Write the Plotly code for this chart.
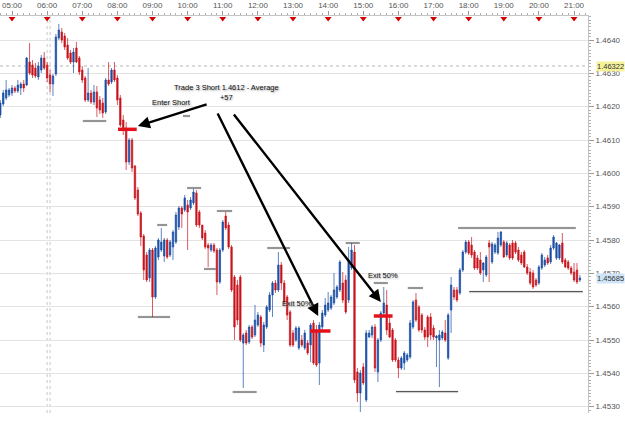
import pandas as pd
import plotly.graph_objects as go

DAY = "2010-11-17 "
START = DAY + "04:40"

# ---- 5-minute OHLC candles ----
opens = [1.46175, 1.46208, 1.46226, 1.46235, 1.46241, 1.46256, 1.46247, 1.46256, 1.46268, 1.46265,
         1.46334, 1.46325, 1.46316, 1.46289, 1.46310, 1.46346, 1.46325, 1.46295, 1.46268, 1.46298,
         1.46406, 1.46424, 1.46412, 1.46385, 1.46361, 1.46334, 1.46376, 1.46346, 1.46310, 1.46286,
         1.46220, 1.46241, 1.46214, 1.46244, 1.46220, 1.46211, 1.46184, 1.46280, 1.46274, 1.46310,
         1.46286, 1.46226, 1.46160, 1.46136, 1.46034, 1.46100, 1.46022, 1.45950, 1.45881, 1.45812,
         1.45755, 1.45686, 1.45770, 1.45629, 1.45749, 1.45770, 1.45752, 1.45800, 1.45755, 1.45779,
         1.45794, 1.45839, 1.45896, 1.45890, 1.45905, 1.45896, 1.45911, 1.45941, 1.45884, 1.45845,
         1.45821, 1.45785, 1.45770, 1.45785, 1.45770, 1.45674, 1.45770, 1.45872, 1.45845, 1.45779,
         1.45689, 1.45665, 1.45689, 1.45491, 1.45521, 1.45494, 1.45539, 1.45515, 1.45545, 1.45569,
         1.45485, 1.45539, 1.45590, 1.45635, 1.45671, 1.45650, 1.45725, 1.45671, 1.45629, 1.45584,
         1.45521, 1.45500, 1.45476, 1.45500, 1.45476, 1.45491, 1.45485, 1.45551, 1.45530, 1.45431,
         1.45539, 1.45575, 1.45590, 1.45596, 1.45611, 1.45629, 1.45650, 1.45671, 1.45680, 1.45620,
         1.45716, 1.45764, 1.45404, 1.45341, 1.45419, 1.45320, 1.45509, 1.45515, 1.45539, 1.45404,
         1.45500, 1.45581, 1.45605, 1.45551, 1.45530, 1.45500, 1.45440, 1.45416, 1.45431, 1.45440,
         1.45449, 1.45539, 1.45620, 1.45599, 1.45575, 1.45530, 1.45569, 1.45569, 1.45536, 1.45506,
         1.45500, 1.45506, 1.45521, 1.45446, 1.45590, 1.45650, 1.45650, 1.45641, 1.45710, 1.45764,
         1.45794, 1.45785, 1.45764, 1.45746, 1.45740, 1.45710, 1.45695, 1.45791, 1.45734, 1.45764,
         1.45761, 1.45785, 1.45794, 1.45755, 1.45785, 1.45791, 1.45791, 1.45770, 1.45755, 1.45764,
         1.45719, 1.45704, 1.45701, 1.45680, 1.45671, 1.45716, 1.45725, 1.45746, 1.45734, 1.45776,
         1.45746, 1.45746, 1.45791, 1.45740, 1.45734, 1.45716, 1.45704, 1.45710, 1.45680]
highs = [1.46220, 1.46250, 1.46280, 1.46256, 1.46265, 1.46262, 1.46280, 1.46274, 1.46280, 1.46349,
         1.46391, 1.46340, 1.46331, 1.46334, 1.46355, 1.46364, 1.46334, 1.46310, 1.46298, 1.46418,
         1.46448, 1.46436, 1.46421, 1.46406, 1.46370, 1.46376, 1.46394, 1.46352, 1.46322, 1.46292,
         1.46316, 1.46250, 1.46265, 1.46262, 1.46232, 1.46226, 1.46286, 1.46334, 1.46316, 1.46334,
         1.46295, 1.46235, 1.46175, 1.46154, 1.46106, 1.46106, 1.46025, 1.45959, 1.45887, 1.45818,
         1.45764, 1.45776, 1.45776, 1.45782, 1.45806, 1.45836, 1.45806, 1.45806, 1.45800, 1.45830,
         1.45884, 1.45902, 1.45902, 1.45935, 1.45920, 1.45929, 1.45953, 1.45950, 1.45890, 1.45845,
         1.45830, 1.45791, 1.45791, 1.45791, 1.45776, 1.45776, 1.45860, 1.45884, 1.45854, 1.45785,
         1.45695, 1.45680, 1.45695, 1.45521, 1.45530, 1.45545, 1.45545, 1.45605, 1.45584, 1.45575,
         1.45554, 1.45605, 1.45644, 1.45677, 1.45680, 1.45764, 1.45734, 1.45680, 1.45635, 1.45590,
         1.45530, 1.45542, 1.45542, 1.45515, 1.45530, 1.45500, 1.45551, 1.45560, 1.45545, 1.45554,
         1.45590, 1.45626, 1.45644, 1.45635, 1.45701, 1.45665, 1.45740, 1.45704, 1.45695, 1.45779,
         1.45791, 1.45785, 1.45416, 1.45410, 1.45431, 1.45530, 1.45530, 1.45545, 1.45548, 1.45506,
         1.45587, 1.45659, 1.45650, 1.45569, 1.45536, 1.45506, 1.45449, 1.45452, 1.45467, 1.45461,
         1.45560, 1.45620, 1.45641, 1.45605, 1.45581, 1.45539, 1.45575, 1.45581, 1.45545, 1.45515,
         1.45530, 1.45530, 1.45560, 1.45581, 1.45689, 1.45659, 1.45659, 1.45716, 1.45770, 1.45800,
         1.45800, 1.45809, 1.45770, 1.45755, 1.45764, 1.45734, 1.45755, 1.45800, 1.45794, 1.45791,
         1.45824, 1.45827, 1.45800, 1.45797, 1.45791, 1.45800, 1.45797, 1.45779, 1.45764, 1.45770,
         1.45728, 1.45716, 1.45710, 1.45686, 1.45725, 1.45761, 1.45749, 1.45755, 1.45785, 1.45815,
         1.45794, 1.45788, 1.45821, 1.45746, 1.45740, 1.45722, 1.45731, 1.45731, 1.45695]
lows = [1.46166, 1.46202, 1.46220, 1.46229, 1.46232, 1.46241, 1.46241, 1.46235, 1.46244, 1.46262,
        1.46295, 1.46286, 1.46286, 1.46280, 1.46301, 1.46310, 1.46274, 1.46244, 1.46232, 1.46292,
        1.46400, 1.46391, 1.46370, 1.46340, 1.46328, 1.46301, 1.46331, 1.46295, 1.46271, 1.46214,
        1.46214, 1.46208, 1.46205, 1.46169, 1.46178, 1.46166, 1.46178, 1.46262, 1.46268, 1.46274,
        1.46205, 1.46139, 1.46115, 1.46010, 1.46025, 1.46004, 1.45920, 1.45872, 1.45782, 1.45680,
        1.45674, 1.45674, 1.45569, 1.45623, 1.45740, 1.45764, 1.45734, 1.45743, 1.45749, 1.45740,
        1.45788, 1.45830, 1.45836, 1.45884, 1.45770, 1.45890, 1.45905, 1.45839, 1.45836, 1.45800,
        1.45773, 1.45719, 1.45764, 1.45761, 1.45635, 1.45668, 1.45764, 1.45830, 1.45773, 1.45644,
        1.45500, 1.45545, 1.45494, 1.45356, 1.45485, 1.45488, 1.45503, 1.45509, 1.45539, 1.45479,
        1.45464, 1.45533, 1.45584, 1.45569, 1.45641, 1.45644, 1.45650, 1.45605, 1.45560, 1.45479,
        1.45479, 1.45494, 1.45470, 1.45479, 1.45470, 1.45455, 1.45434, 1.45425, 1.45419, 1.45365,
        1.45530, 1.45569, 1.45584, 1.45590, 1.45605, 1.45623, 1.45644, 1.45611, 1.45578, 1.45611,
        1.45710, 1.45371, 1.45314, 1.45284, 1.45365, 1.45314, 1.45506, 1.45506, 1.45404, 1.45374,
        1.45494, 1.45575, 1.45515, 1.45506, 1.45434, 1.45434, 1.45386, 1.45410, 1.45410, 1.45434,
        1.45443, 1.45533, 1.45554, 1.45524, 1.45521, 1.45500, 1.45479, 1.45500, 1.45500, 1.45419,
        1.45359, 1.45500, 1.45494, 1.45440, 1.45521, 1.45620, 1.45614, 1.45635, 1.45704, 1.45758,
        1.45755, 1.45746, 1.45710, 1.45710, 1.45695, 1.45674, 1.45689, 1.45674, 1.45728, 1.45758,
        1.45755, 1.45779, 1.45746, 1.45749, 1.45740, 1.45740, 1.45758, 1.45734, 1.45725, 1.45716,
        1.45695, 1.45665, 1.45653, 1.45659, 1.45665, 1.45710, 1.45719, 1.45725, 1.45728, 1.45770,
        1.45740, 1.45740, 1.45728, 1.45716, 1.45710, 1.45695, 1.45674, 1.45668, 1.45674]
closes = [1.46211, 1.46241, 1.46250, 1.46250, 1.46256, 1.46247, 1.46265, 1.46268, 1.46256, 1.46346,
          1.46301, 1.46295, 1.46292, 1.46322, 1.46346, 1.46316, 1.46286, 1.46268, 1.46292, 1.46409,
          1.46430, 1.46400, 1.46379, 1.46346, 1.46334, 1.46364, 1.46334, 1.46304, 1.46280, 1.46220,
          1.46241, 1.46214, 1.46244, 1.46196, 1.46190, 1.46181, 1.46280, 1.46268, 1.46310, 1.46280,
          1.46220, 1.46145, 1.46130, 1.46034, 1.46100, 1.46016, 1.45926, 1.45878, 1.45809, 1.45710,
          1.45680, 1.45770, 1.45629, 1.45776, 1.45800, 1.45794, 1.45800, 1.45749, 1.45794, 1.45824,
          1.45875, 1.45896, 1.45878, 1.45926, 1.45884, 1.45920, 1.45944, 1.45845, 1.45845, 1.45806,
          1.45779, 1.45776, 1.45785, 1.45767, 1.45674, 1.45770, 1.45854, 1.45836, 1.45779, 1.45650,
          1.45539, 1.45560, 1.45500, 1.45515, 1.45491, 1.45539, 1.45509, 1.45560, 1.45575, 1.45491,
          1.45545, 1.45599, 1.45635, 1.45671, 1.45650, 1.45725, 1.45671, 1.45614, 1.45575, 1.45485,
          1.45485, 1.45536, 1.45536, 1.45485, 1.45521, 1.45461, 1.45545, 1.45431, 1.45425, 1.45545,
          1.45581, 1.45605, 1.45611, 1.45629, 1.45650, 1.45659, 1.45734, 1.45620, 1.45584, 1.45740,
          1.45770, 1.45380, 1.45341, 1.45401, 1.45371, 1.45521, 1.45521, 1.45539, 1.45416, 1.45500,
          1.45581, 1.45611, 1.45530, 1.45509, 1.45440, 1.45440, 1.45416, 1.45446, 1.45461, 1.45455,
          1.45551, 1.45614, 1.45560, 1.45530, 1.45530, 1.45509, 1.45509, 1.45515, 1.45509, 1.45512,
          1.45515, 1.45524, 1.45500, 1.45575, 1.45665, 1.45629, 1.45620, 1.45710, 1.45764, 1.45794,
          1.45761, 1.45755, 1.45716, 1.45716, 1.45701, 1.45731, 1.45749, 1.45779, 1.45788, 1.45785,
          1.45806, 1.45824, 1.45749, 1.45791, 1.45746, 1.45746, 1.45764, 1.45740, 1.45731, 1.45719,
          1.45701, 1.45671, 1.45659, 1.45665, 1.45719, 1.45755, 1.45740, 1.45731, 1.45776, 1.45809,
          1.45791, 1.45785, 1.45734, 1.45719, 1.45716, 1.45701, 1.45680, 1.45674, 1.45686]

# ---- hand-drawn support / resistance strokes ----
level_start = ["07:01", "09:52", "08:35", "09:08", "09:59", "10:28", "10:50", "11:17",
               "12:16", "14:30", "15:18", "16:16", "15:56", "18:01", "17:42"]
level_end = ["07:41", "10:04", "09:30", "09:25", "10:23", "10:48", "11:16", "11:58",
             "12:55", "14:54", "15:42", "16:42", "17:42", "21:15", "21:03"]
level_price = [1.46157, 1.46172, 1.45569, 1.45845, 1.45956, 1.45713, 1.45887, 1.45344,
               1.45776, 1.45791, 1.45671, 1.45656, 1.45345, 1.45645, 1.45836]

# ---- trade entry / exit markers ----
trade_start = ["08:01", "13:29", "15:18"]
trade_end = ["08:33", "14:04", "15:50"]
trade_price = [1.46132, 1.45527, 1.45572]

# ---- arrows (tail -> head) ----
arrow_tail_t = ["10:35", "10:50", "11:17"]
arrow_tail_p = [1.46208, 1.46184, 1.46181]
arrow_head_t = ["08:35", "13:43", "15:30"]
arrow_head_p = [1.46142, 1.45572, 1.45614]

hour_labels = ["%02d:00" % h for h in range(5, 22)]
price_marks = [1.46322, 1.45685]
price_mark_bg = ["#f6f29a", "#cfe5f7"]

RED = "#c8141c"
BLUE = "#1b4fa5"
FONT = "Liberation Sans"

times = pd.date_range(START, periods=len(opens), freq="5min")

fig = go.Figure()

fig.add_trace(go.Candlestick(
    x=times, open=opens, high=highs, low=lows, close=closes,
    increasing=dict(line=dict(color=BLUE, width=0.7), fillcolor=BLUE),
    decreasing=dict(line=dict(color=RED, width=0.7), fillcolor=RED),
    whiskerwidth=0, hoverinfo="skip", showlegend=False))

# level strokes (soft shadow + line)
lx, ly = [], []
for s, e, p in zip(level_start, level_end, level_price):
    lx += [DAY + s, DAY + e, None]
    ly += [p, p, None]
fig.add_trace(go.Scatter(x=lx, y=ly, mode="lines",
                         line=dict(color="rgba(0,0,0,0.07)", width=3),
                         hoverinfo="skip", showlegend=False))
fig.add_trace(go.Scatter(x=lx, y=ly, mode="lines",
                         line=dict(color="#3c3c3c", width=1),
                         hoverinfo="skip", showlegend=False))

# trade markers
tx, ty = [], []
for s, e, p in zip(trade_start, trade_end, trade_price):
    tx += [DAY + s, DAY + e, None]
    ty += [p, p, None]
fig.add_trace(go.Scatter(x=tx, y=ty, mode="lines",
                         line=dict(color="#e3121b", width=3.5),
                         hoverinfo="skip", showlegend=False))

# red hour triangles along the top
fig.add_trace(go.Scatter(x=[DAY + h for h in hour_labels], y=[0.994] * len(hour_labels),
                         yaxis="y2", mode="markers",
                         marker=dict(symbol="triangle-down", size=6, color="#d40000"),
                         hoverinfo="skip", showlegend=False))

annotations = []
for tt, tp, ht, hp in zip(arrow_tail_t, arrow_tail_p, arrow_head_t, arrow_head_p):
    annotations.append(dict(x=DAY + ht, y=hp, ax=DAY + tt, ay=tp, xref="x", yref="y",
                            axref="x", ayref="y", text="", showarrow=True,
                            arrowhead=2, arrowsize=1, arrowwidth=2.4, arrowcolor="black"))

tfont = dict(family=FONT, size=7.5, color="#111", shadow="1px 1px 2px #999")
annotations += [
    dict(x=DAY + "11:06", y=1.46242, text="Trade 3 Short 1.4612 - Average<br>+57",
         showarrow=False, font=tfont, xref="x", yref="y"),
    dict(x=DAY + "09:32", y=1.46213, text="Enter Short", showarrow=False, font=tfont,
         xref="x", yref="y"),
    dict(x=DAY + "13:07", y=1.45611, text="Exit 50%", showarrow=False, font=tfont,
         xref="x", yref="y"),
    dict(x=DAY + "15:34", y=1.45695, text="Exit 50%", showarrow=False, font=tfont,
         xref="x", yref="y"),
]
for p, bg in zip(price_marks, price_mark_bg):
    annotations.append(dict(x=1, xref="paper", y=p, yref="y", xanchor="left",
                            xshift=8, text="%.5f" % p, showarrow=False, bgcolor=bg,
                            borderpad=0, font=dict(family=FONT, size=7.5, color="#333")))

shapes = [
    dict(type="line", xref="paper", x0=0, x1=1, yref="y", y0=price_marks[0], y1=price_marks[0],
         line=dict(color="#b5b5b5", width=1, dash="dot"), layer="below"),
    dict(type="line", xref="x", x0=DAY + "06:00", x1=DAY + "06:00", yref="paper", y0=0, y1=1,
         line=dict(color="#c8c8c8", width=1, dash="dot"), layer="below"),
    dict(type="line", xref="x", x0=DAY + "06:05", x1=DAY + "06:05", yref="paper", y0=0, y1=1,
         line=dict(color="#c8c8c8", width=1, dash="dot"), layer="below"),
]

x_range = [DAY + "04:39:30", DAY + "21:23:50"]
axis_font = dict(family=FONT, size=8, color="#555")

fig.update_layout(
    width=625, height=424,
    margin=dict(l=0, r=37, t=16, b=11),
    paper_bgcolor="white", plot_bgcolor="white",
    showlegend=False,
    annotations=annotations, shapes=shapes,
    xaxis=dict(type="date", range=x_range, side="top", tickformat="%H:%M",
               tick0=DAY + "05:00", dtick=3600000, ticks="outside", ticklen=4,
               tickcolor="#9a9a9a", showgrid=False, zeroline=False,
               showline=True, linecolor="#c4c4c4", tickfont=axis_font,
               rangeslider=dict(visible=False),
               minor=dict(dtick=600000, ticklen=2, tickcolor="#b0b0b0", showgrid=False)),
    xaxis2=dict(type="date", range=x_range, overlaying="x", side="bottom", anchor="y",
                tick0=DAY + "06:10", dtick=6000000, ticks="outside", ticklen=6,
                tickcolor="#9a9a9a", showticklabels=False, showgrid=True,
                gridcolor="#e3e3e3", showline=True, linecolor="#c4c4c4", zeroline=False,
                minor=dict(dtick=750000, ticklen=3, tickcolor="#b0b0b0", showgrid=False)),
    yaxis=dict(side="right", range=[1.45281, 1.46472], tick0=1.453, dtick=0.001,
               tickformat=".4f", ticks="outside", ticklen=5, tickcolor="#9a9a9a",
               showgrid=True, gridcolor="#e3e3e3", zeroline=False, showline=True,
               linecolor="#c4c4c4", tickfont=axis_font,
               minor=dict(dtick=0.0001, ticklen=2, tickcolor="#b0b0b0", showgrid=False)),
    yaxis2=dict(overlaying="y", range=[0, 1], visible=False),
)

fig.write_html("out.html")
